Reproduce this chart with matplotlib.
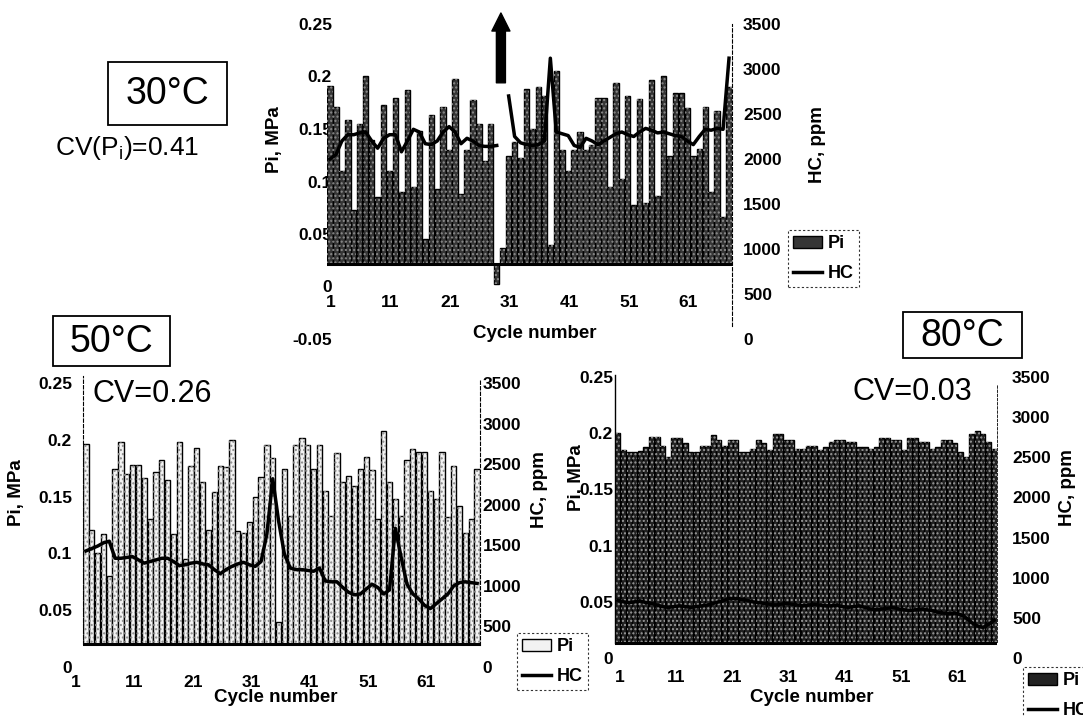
import numpy as np
import matplotlib
matplotlib.use('Agg')
import matplotlib.pyplot as plt
from matplotlib.patches import Rectangle
from matplotlib.transforms import ScaledTranslation

plt.rcParams['font.family'] = ['Liberation Sans', 'DejaVu Sans']
plt.rcParams['font.weight'] = 'bold'

cycles = np.arange(1, 69)
tick_cycles = [1, 11, 21, 31, 41, 51, 61]
hc_ticks = [0, 500, 1000, 1500, 2000, 2500, 3000, 3500]

# 30 C
pi_30 = [0.191, 0.171, 0.11, 0.159, 0.073, 0.155, 0.200, 0.14, 0.085, 0.173,
         0.11, 0.180, 0.09, 0.187, 0.095, 0.148, 0.045, 0.163, 0.093, 0.171,
         0.13, 0.198, 0.088, 0.13, 0.178, 0.155, 0.12, 0.155, 0.002, 0.037,
         0.124, 0.138, 0.122, 0.188, 0.150, 0.190, 0.181, 0.04, 0.205, 0.13,
         0.11, 0.13, 0.147, 0.13, 0.135, 0.18, 0.18, 0.095, 0.194, 0.102,
         0.181, 0.078, 0.179, 0.08, 0.197, 0.086, 0.2, 0.124, 0.184, 0.184,
         0.170, 0.124, 0.131, 0.171, 0.09, 0.167, 0.066, 0.19]
# cycle 30 is off scale (arrow), left as a gap
hc_30 = [2000, 2050, 2200, 2270, 2270, 2290, 2300, 2200, 2120, 2230,
         2270, 2270, 2080, 2200, 2330, 2300, 2170, 2160, 2200, 2300,
         2360, 2300, 2170, 2230, 2200, 2150, 2140, 2140, 2150, np.nan,
         2700, 2250, 2180, 2160, 2150, 2160, 2200, 3120, 2300, 2280,
         2260, 2150, 2130, 2230, 2200, 2160, 2200, 2240, 2280, 2300,
         2270, 2250, 2300, 2340, 2320, 2290, 2300, 2280, 2260, 2250,
         2200, 2160, 2250, 2330, 2320, 2340, 2330, 3120]

# 50 C
pi_50 = [0.196, 0.121, 0.10, 0.117, 0.08, 0.174, 0.198, 0.17, 0.178, 0.178,
         0.166, 0.13, 0.172, 0.182, 0.165, 0.117, 0.198, 0.095, 0.177, 0.193,
         0.163, 0.121, 0.154, 0.177, 0.176, 0.2, 0.12, 0.118, 0.128, 0.15,
         0.167, 0.195, 0.184, 0.04, 0.174, 0.133, 0.195, 0.202, 0.195, 0.174,
         0.195, 0.155, 0.133, 0.188, 0.163, 0.168, 0.159, 0.174, 0.185, 0.173,
         0.13, 0.208, 0.163, 0.148, 0.133, 0.182, 0.192, 0.189, 0.189, 0.155,
         0.148, 0.189, 0.132, 0.177, 0.142, 0.118, 0.13, 0.174]
hc_50 = [1430, 1460, 1490, 1530, 1550, 1340, 1340, 1350, 1360, 1320,
         1280, 1300, 1320, 1340, 1340, 1300, 1250, 1260, 1280, 1290,
         1270, 1260, 1200, 1150, 1200, 1240, 1270, 1290, 1260, 1240,
         1300, 1640, 2320, 1800, 1390, 1220, 1200, 1200, 1190, 1180,
         1220, 1060, 1050, 1050, 980, 920, 890, 900, 960, 1020,
         980, 900, 950, 1710, 1350, 1020, 900, 840, 760, 720,
         780, 840, 900, 1000, 1040, 1050, 1040, 1030]

# 80 C
pi_80 = [0.200, 0.185, 0.183, 0.183, 0.184, 0.188, 0.197, 0.197, 0.189, 0.179,
         0.196, 0.196, 0.191, 0.183, 0.183, 0.189, 0.189, 0.198, 0.194, 0.189,
         0.194, 0.194, 0.183, 0.183, 0.186, 0.194, 0.191, 0.185, 0.199, 0.199,
         0.194, 0.194, 0.186, 0.186, 0.189, 0.189, 0.185, 0.188, 0.192, 0.194,
         0.194, 0.192, 0.192, 0.188, 0.188, 0.186, 0.188, 0.196, 0.196, 0.194,
         0.194, 0.185, 0.196, 0.196, 0.192, 0.192, 0.186, 0.188, 0.194, 0.194,
         0.191, 0.183, 0.179, 0.199, 0.202, 0.199, 0.192, 0.186]
hc_80 = [720, 700, 690, 700, 710, 690, 680, 660, 640, 630,
         640, 650, 640, 630, 640, 650, 660, 680, 700, 720,
         740, 740, 730, 720, 700, 690, 680, 670, 660, 670,
         680, 670, 660, 650, 660, 670, 660, 650, 650, 660,
         640, 630, 640, 650, 630, 610, 600, 610, 620, 630,
         610, 600, 590, 600, 610, 600, 590, 570, 560, 550,
         560, 540, 500, 440, 400, 380, 420, 470]

W, H = 1083, 716
fig = plt.figure(figsize=(W / 100, H / 100), dpi=100)


def rect_px(x0, y0, x1, y1):
    return [x0 / W, 1 - y1 / H, (x1 - x0) / W, (y1 - y0) / H]


def pt(x, y):
    return (x / W, 1 - y / H)


def panel(rect, pi, hc, base, pi_ticks, face, dots, lpad, rpad, xlab_y, xlab_dx):
    ax = fig.add_axes(rect)
    ax2 = ax.twinx()
    bars = ax.bar(cycles, np.subtract(pi, base), bottom=base, width=0.9,
                  color=face, edgecolor='black', linewidth=1.0)
    ax.bar(cycles, np.subtract(pi, base), bottom=base, width=0.9,
           fill=False, hatch='....', edgecolor=dots, linewidth=0)
    ax.axhline(base, color='black', lw=2.2, zorder=3)
    line, = ax2.plot(cycles, hc, color='black', lw=2.5)

    ax.set_xlim(0.5, 68.5)
    ax.set_ylim(pi_ticks[0], pi_ticks[-1])
    ax.set_xticks([])
    ax.set_yticks(pi_ticks, labels=[f'{v:g}' for v in pi_ticks])
    ax.tick_params(axis='y', length=0, pad=lpad, labelsize=12.5)
    ax2.set_ylim(0, 3500)
    ax2.set_yticks(hc_ticks)
    ax2.tick_params(axis='y', length=0, pad=rpad, labelsize=12.5)
    for a in (ax, ax2):
        for s in a.spines.values():
            s.set_visible(False)

    off = ScaledTranslation(xlab_dx / 100, 0, fig.dpi_scale_trans)
    for c in tick_cycles:
        ax.text(c, xlab_y, str(c), transform=ax.get_xaxis_transform() + off,
                ha='center', va='center', fontsize=12.5)
    return ax, ax2, bars, line


def legend(handles, x, y):
    leg = fig.legend(handles, ['Pi', 'HC'], loc='upper left', bbox_to_anchor=pt(x, y),
                     frameon=True, fancybox=False, fontsize=13, handlelength=1.6,
                     handletextpad=0.3, borderpad=0.3, labelspacing=0.7, borderaxespad=0)
    fr = leg.get_frame()
    fr.set_edgecolor('black')
    fr.set_linewidth(0.8)
    fr.set_linestyle((0, (2, 2)))


def temp_box(x0, y0, x1, y1, label):
    fig.add_artist(Rectangle(pt(x0, y1), (x1 - x0) / W, (y1 - y0) / H,
                             transform=fig.transFigure, fill=False, ec='black', lw=1.3))
    fig.text(*pt((x0 + x1) / 2, (y0 + y1) / 2 + 1), label, ha='center', va='center',
             fontsize=27, fontweight='normal')


# ---- 30 C (top) ----
ax, ax2, bars, line = panel(rect_px(327, 24, 732, 339), pi_30, hc_30, 0.021,
                            [-0.05, 0, 0.05, 0.1, 0.15, 0.2, 0.25], '#363636', '#8c8c8c',
                            -3.6, 8, 0.117, 1)
ax.set_axisbelow(True)
ax2.spines['right'].set_visible(True)
ax2.spines['right'].set_linestyle((0, (3, 2)))
ax2.spines['right'].set_linewidth(0.8)
ax2.spines['right'].set_bounds(150, 3500)
ax.annotate('', xy=(29.7, 0.2605), xytext=(29.7, 0.194), annotation_clip=False,
            arrowprops=dict(facecolor='black', edgecolor='black', width=6.5,
                            headwidth=13, headlength=13, shrink=0))
legend([bars, line], 788, 230)
fig.text(*pt(275, 140), 'Pi, MPa', rotation=90, ha='center', va='center', fontsize=13.5)
fig.text(*pt(817, 145), 'HC, ppm', rotation=90, ha='center', va='center', fontsize=13.5)
fig.text(*pt(535, 333), 'Cycle number', ha='center', va='center', fontsize=13.5)
temp_box(108, 62, 227, 125, '30°C')
fig.text(*pt(127, 148), r'CV(P$_\mathregular{i}$)=0.41', ha='center', va='center',
         fontsize=19, fontweight='normal')

# ---- 50 C (bottom left) ----
ax, ax2, bars, line = panel(rect_px(83, 383, 480, 667), pi_50, hc_50, 0.02,
                            [0, 0.05, 0.1, 0.15, 0.2, 0.25], '#f2f2f2', '#8a8a8a',
                            7.9, 2, -0.053, -10)
for a, side, lo, hi in ((ax, 'left', 0.02, 0.256), (ax2, 'right', 270, 3550)):
    sp = a.spines[side]
    sp.set_visible(True)
    sp.set_linestyle((0, (3, 2)))
    sp.set_linewidth(0.8)
    sp.set_bounds(lo, hi)
legend([bars, line], 517, 633)
fig.text(*pt(17, 493), 'Pi, MPa', rotation=90, ha='center', va='center', fontsize=13.5)
fig.text(*pt(540, 490), 'HC, ppm', rotation=90, ha='center', va='center', fontsize=13.5)
fig.text(*pt(276, 698), 'Cycle number', ha='center', va='center', fontsize=13.5)
temp_box(53, 316, 170, 366, '50°C')
fig.text(*pt(93, 394), 'CV=0.26', ha='left', va='center', fontsize=22, fontweight='normal')

# ---- 80 C (bottom right) ----
ax, ax2, bars, line = panel(rect_px(615, 377, 997, 658), pi_80, hc_80, 0.013,
                            [0, 0.05, 0.1, 0.15, 0.2, 0.25], '#222222', '#9a9a9a',
                            1.4, 10.8, -0.068, 2)
ax.spines['left'].set_visible(True)
ax.spines['left'].set_linewidth(1.0)
ax.spines['left'].set_bounds(0.013, 0.252)
ax2.spines['right'].set_visible(True)
ax2.spines['right'].set_linestyle((0, (3, 2)))
ax2.spines['right'].set_linewidth(0.6)
ax2.spines['right'].set_bounds(200, 3400)
legend([bars, line], 1023, 667)
fig.text(*pt(577, 478), 'Pi, MPa', rotation=90, ha='center', va='center', fontsize=13.5)
fig.text(*pt(1068, 488), 'HC, ppm', rotation=90, ha='center', va='center', fontsize=13.5)
fig.text(*pt(812, 697), 'Cycle number', ha='center', va='center', fontsize=13.5)
temp_box(903, 312, 1022, 358, '80°C')
fig.text(*pt(853, 392), 'CV=0.03', ha='left', va='center', fontsize=22, fontweight='normal')

fig.savefig('out.png', dpi=100)
